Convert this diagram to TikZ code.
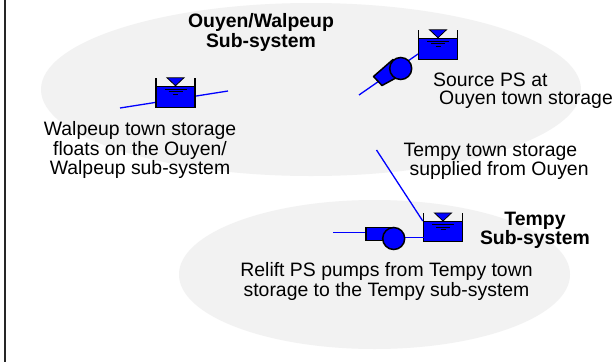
\documentclass[tikz,border=0pt]{standalone}
\usepackage{fontspec}
\setmainfont{Liberation Sans}
\usetikzlibrary{shapes.geometric}
\definecolor{fillgrey}{RGB}{242,242,242}
\definecolor{pipeblue}{RGB}{0,0,255}
\tikzset{
  region/.style={ellipse,fill=fillgrey,draw=none,inner sep=0pt},
  lbl/.style={inner sep=0pt,font=\fontsize{19.4}{17.8}\selectfont},
  pipe/.style={draw=pipeblue,line width=1.3pt},
  blk/.style={draw=black,line width=1.5pt,fill=pipeblue},
  tankbox/.style={rectangle,blk,minimum width=39pt,minimum height=21pt,inner sep=0pt},
  pumpc/.style={circle,blk,minimum size=22pt,inner sep=0pt}
}
\newcommand{\tanksym}[1]{%
  \draw[black,line width=1.1pt] ([xshift=-19.5pt]#1.north) -- ([xshift=-19.5pt,yshift=8pt]#1.north);
  \draw[black,line width=1.1pt] ([xshift=19.5pt]#1.north) -- ([xshift=19.5pt,yshift=8pt]#1.north);
  \draw[blk,line width=.8pt] ([xshift=-8.5pt,yshift=8pt]#1.north) -- ([xshift=8.5pt,yshift=8pt]#1.north) -- (#1.north) -- cycle;
  \draw[black,line width=1pt] ([xshift=-11pt,yshift=-3.5pt]#1.north) -- ([xshift=11pt,yshift=-3.5pt]#1.north);
  \draw[black,line width=.8pt] ([xshift=-7pt,yshift=-6pt]#1.north) -- ([xshift=7pt,yshift=-6pt]#1.north);
  \draw[black,line width=.8pt] ([xshift=-2.5pt,yshift=-8.5pt]#1.north) -- ([xshift=2.5pt,yshift=-8.5pt]#1.north);
}
\begin{document}
\begin{tikzpicture}[x=1pt,y=-1pt]
\useasboundingbox (0,0) rectangle (613,362);
\fill[white] (0,0) rectangle (613,362);
\node[region,minimum width=540pt,minimum height=173pt] (e1) at (311,89.5) {};
\node[region,minimum width=391pt,minimum height=149pt] (e2) at (374.5,274.5) {};
\coordinate (ft) at (5,0);
\coordinate (fb) at (5,362);
\draw[black!85,line width=1.7pt] (ft) -- (fb);
% Walpeup
\coordinate (p1a) at (120,108);
\coordinate (p1b) at (228,91);
\draw[pipe] (p1a) -- (p1b);
\node[tankbox] (t1) at (175.5,97) {};
\tanksym{t1}
% Source
\coordinate (p2a) at (359,95);
\coordinate (p2b) at (418,54);
\draw[pipe] (p2a) -- (p2b);
\node[tankbox] (t2) at (438,49) {};
\tanksym{t2}
\draw[blk,line join=round] (373.5,76.5) -- (393,59.5) -- (405,73) -- (382,85.5) -- cycle;
\node[pumpc] (pu2) at (400.7,68.5) {};
% Tempy
\coordinate (p3t) at (376.5,150);
\node[tankbox,minimum height=20pt] (t3) at (443,231.7) {};
\tanksym{t3}
\draw[pipe] (p3t) -- (t3.north west);
\coordinate (p3a) at (333,232.3);
\coordinate (p3b) at (366,232.3);
\coordinate (p3c) at (423.5,237.7);
\coordinate (p3d) at (394,237.7);
\draw[pipe] (p3a) -- (p3b);
\draw[pipe] (p3d) -- (p3c);
\draw[blk] (366,227.7) rectangle (395,240.7);
\node[pumpc] (pu3) at (393.7,238.5) {};
% Labels
\node[lbl,align=center] (l1) at (261,32.5) {\textbf{Ouyen/Walpeup}\\\textbf{Sub-system}};
\node[lbl,align=center] (l2) at (140,150) {Walpeup town storage\\floats on the Ouyen/\\Walpeup sub-system};
\node[lbl,align=left,anchor=west] (l3) at (433,90.5) {Source PS at\\\hspace*{6pt}Ouyen town storage};
\node[lbl,align=left,anchor=west] (l4) at (403.4,161.7) {Tempy town storage\\\hspace*{6pt}supplied from Ouyen};
\node[lbl,align=center] (l5) at (535,230.2) {\textbf{Tempy}\\\textbf{Sub-system}};
\node[lbl,align=center] (l6) at (386.5,281.5) {Relift PS pumps from Tempy town\\storage to the Tempy sub-system};
\end{tikzpicture}
\end{document}
